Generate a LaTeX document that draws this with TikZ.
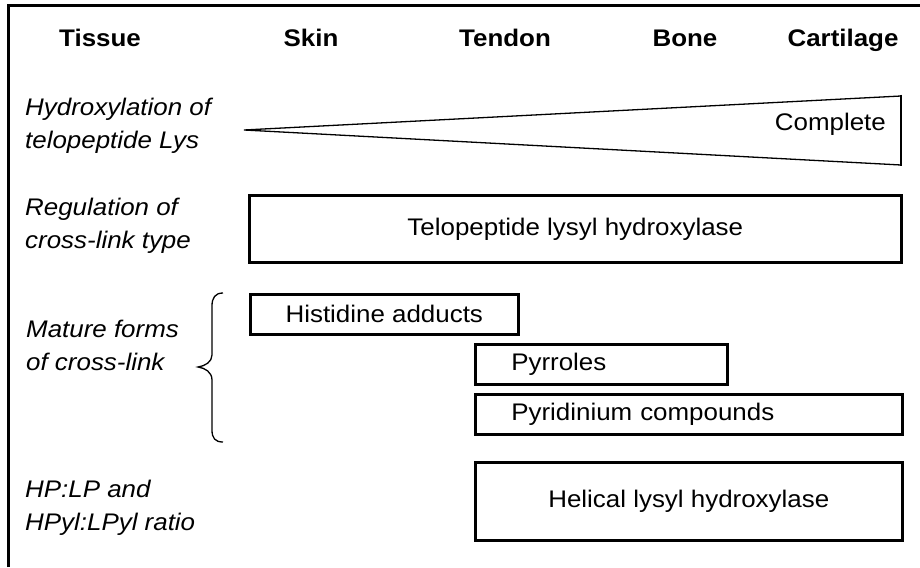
\documentclass[tikz,border=0pt]{standalone}
\usepackage{fontspec}
\setmainfont{Liberation Sans}[FakeStretch=1.08]
\usepackage{tikz}
\usetikzlibrary{positioning}

\begin{document}
\begin{tikzpicture}[
    x=1pt, y=-1pt,
    head/.style={font=\bfseries\fontsize{24}{28}\selectfont, anchor=base, inner sep=0pt},
    lab/.style={font=\itshape\fontsize{24}{32.5}\selectfont, align=left, anchor=north west, inner sep=0pt},
    box/.style={draw, line width=2.6pt, rectangle, anchor=north west, inner sep=0pt, font=\fontsize{24}{28}\selectfont},
    lbox/.style={box, align=left, inner xsep=36pt}
]
\useasboundingbox (0,0) rectangle (920,567);
% frame
\draw[line width=3pt] (8,567) -- (8,6) -- (920,6);

% column heads
\node[head] (tissue) at (100,47) {Tissue};
\node[head] (skin) at (311,47) {Skin};
\node[head] (tendon) at (505,47) {Tendon};
\node[head] (bone) at (685,47) {Bone};
\node[head] (cart) at (843,47) {Cartilage};

% row labels
\node[lab] (hydlab) at (25,98) {Hydroxylation of\\telopeptide Lys};
\node[lab] (reglab) at (25,198) {Regulation of\\cross-link type};
\node[lab] (matlab) at (26,320) {Mature forms\\of cross-link};
\node[lab] (ratlab) at (25,480) {HP:LP and\\HPyl:LPyl ratio};

% wedge
\draw[line width=1.3pt] (901,96) -- (244,130) -- (901,165);
\draw[line width=2.6pt] (901,94.7) -- (901,166.3);
\node[font=\fontsize{24}{28}\selectfont, anchor=east, inner sep=0pt] (compl) at (886,124) {Complete};

% boxes
\node[box, minimum width=652pt, minimum height=67pt] (telo) at (248,194) {Telopeptide lysyl hydroxylase};
\node[box, minimum width=268pt, minimum height=40pt] (hist) at (249,293) {Histidine adducts};
\node[lbox, minimum width=252pt, minimum height=40pt, text width=180pt] (pyrr) at (474,343) {Pyrroles};
\node[lbox, minimum width=427pt, minimum height=40pt, text width=355pt] (pyrid) at (474,393) {Pyridinium compounds};
\node[box, minimum width=427pt, minimum height=78pt] (helic) at (474,461) {Helical lysyl hydroxylase};

% brace
\draw[line width=1.3pt] (223,293) .. controls (215,293) and (212,298) .. (212,306) -- (212,355)
    .. controls (212,362) and (205,366) .. (198,367)
    .. controls (205,368) and (212,372) .. (212,380) -- (212,430)
    .. controls (212,438) and (215,442) .. (223,442);
\end{tikzpicture}
\end{document}
